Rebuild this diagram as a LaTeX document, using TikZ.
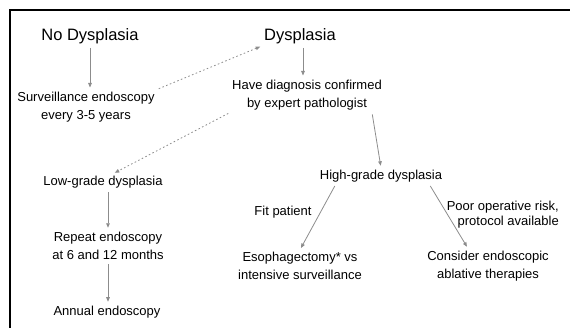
\documentclass[tikz,border=0pt]{standalone}
\usepackage{fontspec}
\setmainfont{Liberation Sans}
\usetikzlibrary{arrows.meta,calc}

\tikzset{
  step box/.style={inner sep=2pt, align=center, font=\fontsize{13}{18.5}\selectfont},
  head box/.style={inner sep=2pt, font=\fontsize{16.5}{19}\selectfont},
  flow/.style={draw=black!45, line width=0.8pt, -{Triangle[length=4.5pt,width=3.6pt]}, shorten <=2pt, shorten >=2pt},
  dotflow/.style={flow, dash pattern=on 1.6pt off 2.4pt}
}

\begin{document}
\begin{tikzpicture}[x=1pt,y=-1pt]
  % Page
  \useasboundingbox (0,0) rectangle (570,328);
  \draw[line width=2.6pt] (570,10) -- (10,10) -- (10,328);

  % Top row
  \node[head box] (nodys) at (90,36) {No Dysplasia};
  \node[head box] (dys)   at (300,36) {Dysplasia};

  % Second row
  \node[step box] (surv) at (86,107) {Surveillance endoscopy\\every 3-5 years};
  \node[step box] (diag) at (307,95) {Have diagnosis confirmed\\by expert pathologist};

  % Left branch
  \node[step box] (low) at (103,182) {Low-grade dysplasia};
  \node[step box] (rep) at (108,246) {Repeat endoscopy\\at 6 and 12 months};
  \node[step box] (ann) at (107,312) {Annual endoscopy};

  % Right branch
  \node[step box] (high) at (381,176) {High-grade dysplasia};
  \node[step box] (fit)  at (283,212) {Fit patient};
  \node[step box, align=right, anchor=east, font=\fontsize{13}{15}\selectfont] (poor) at (561,215) {Poor operative risk,\\protocol available};
  \node[step box] (eso)  at (300,266) {Esophagectomy* vs\\intensive surveillance};
  \node[step box] (cons) at (488,266) {Consider endoscopic\\ablative therapies};

  % Arrows
  \draw[flow] (nodys.south) -- (nodys.south |- surv.north);
  \draw[dotflow] (surv.north east) -- (dys.south west);
  \draw[flow] ([xshift=3pt]dys.south) -- ([xshift=3pt]dys.south |- diag.north);
  \draw[dotflow] (diag.south west) -- ([xshift=10pt]low.north);
  \draw[flow] ([xshift=-12pt]diag.south east) -- (high.north);
  \draw[flow] (rep.north |- low.south) -- (rep.north);
  \draw[flow] (rep.south) -- (rep.south |- ann.north);
  \draw[flow] ([xshift=18pt]high.south west) -- (eso.north);
  \draw[flow] ([xshift=-15pt]high.south east) -- ([xshift=-20pt]cons.north);
\end{tikzpicture}
\end{document}
